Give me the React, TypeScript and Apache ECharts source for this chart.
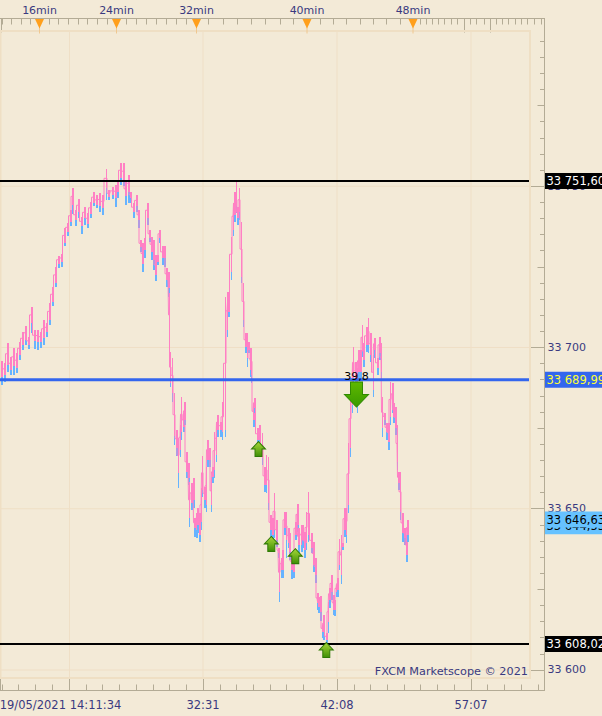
import React, { useEffect, useRef } from "react";
import * as echarts from "echarts";

const barTime = [1,4,7,10,13,16,19,22,25,28,31,34,37,40,43,46,49,52,55,58,61,64,67,70,72,75,78,81,84,87,90,93,96,99,102,106,108,112,115,117,120,123,125,128,130,133,136,138,140,142,144,147,149,151,153,155,157,159,162,164,166,168,169,170,172,174,176,178,180,181,183,184,186,188,189,191,193,194,196,197,199,201,202,204,206,207,209,211,212,214,216,217,220,222,225,227,228,231,233,234,236,237,239,241,243,245,247,248,250,251,253,254,257,259,262,264,266,268,270,272,274,276,278,279,281,282,284,286,288,289,291,293,295,297,298,301,302,304,306,308,311,313,315,317,318,320,322,323,326,328,329,331,333,334,336,337,339,341,342,344,346,348,350,352,353,355,357,358,360,362,363,366,368,370,373,374,377,379,381,382,384,386,388,390,392,393,395,397,398,400,402,404,406,407];
const askHigh = [33695.9,33695.2,33701.5,33697.1,33699.9,33698.4,33701.8,33704.9,33706.7,33703.3,33712.6,33705.5,33705.5,33704.9,33708.6,33707.6,33713.8,33718.8,33725,33728.4,33729,33737.1,33738.6,33742.7,33749.5,33742.7,33746.1,33740.5,33743.6,33741.8,33745.2,33748.3,33747.3,33748,33747.3,33755.4,33748.9,33749.8,33750.4,33751.4,33757.3,33757.3,33751.4,33753.5,33748.3,33744.9,33747.3,33742.7,33733.4,33732.4,33734,33744.9,33736.5,33734.3,33733.4,33728.7,33728.7,33736.5,33731.5,33731.5,33724.7,33723.5,33716.9,33698.7,33696.8,33685.9,33674.5,33672,33676,33684.7,33679.7,33683.1,33667.6,33664.2,33658.3,33658,33659.6,33647.2,33648.7,33650.3,33648.7,33656.5,33666.4,33656.8,33663,33671.4,33668.9,33659.9,33663,33673.9,33677,33679.1,33677,33683.1,33715.7,33717.2,33717.2,33734.3,33744.9,33748.3,33751.4,33743.6,33749.5,33739,33720,33704.6,33704.6,33701.8,33699.9,33699.9,33682.8,33684.4,33675.1,33676,33673.5,33663,33666.7,33666.1,33648.1,33647.2,33654.9,33646.6,33637.9,33636.4,33634.8,33637.3,33649,33649,33644.1,33642.5,33636.4,33634.2,33646,33651.5,33644.1,33645,33645,33642.8,33649,33655.2,33642.5,33639.7,33634.8,33623.9,33622.7,33623,33614,33617.1,33611.5,33621.2,33625.5,33629.5,33623.3,33621.8,33626.4,33628.6,33640.7,33641.9,33639.4,33650.3,33650.3,33670.4,33686.9,33695.2,33700.2,33695.5,33693.7,33699.3,33699.3,33707,33701.5,33706.4,33709.2,33704.6,33697.7,33703,33696.8,33703.3,33701.5,33684.7,33679.7,33676.6,33676.6,33689.3,33689,33682.8,33681.6,33676,33661.5,33661.5,33648.7,33644.1,33641.9,33646.6];
const askLow = [33690.9,33691.5,33694.6,33693.1,33694.3,33693.7,33697.7,33700.8,33702.4,33700.8,33707.6,33702.1,33701.8,33701.8,33703,33704.9,33708.6,33714.2,33720,33726,33726.5,33732.4,33735.9,33739,33744.2,33739.6,33742.1,33737.7,33740.2,33738.3,33741.4,33744.9,33744.2,33743.9,33743.3,33749.5,33746.7,33747.3,33746.4,33748.3,33752.6,33752,33747,33748.3,33746.4,33742.1,33743.9,33739.6,33731.2,33725.9,33730.3,33740.2,33734,33729.7,33727.2,33722.5,33726.5,33734,33727.8,33727.8,33721,33718.5,33703.3,33689.1,33685.9,33672.4,33668.9,33661.1,33668.3,33673.9,33675.4,33677.6,33661.5,33659.6,33647.2,33651.8,33652.8,33644.1,33643.5,33645,33641.9,33645.9,33655.9,33652.8,33651.2,33665.2,33665.2,33651.2,33659.9,33662.1,33666.7,33674.5,33674.5,33673.9,33674.5,33705.5,33711,33723.5,33736.5,33741.1,33743.9,33740.2,33742.1,33722,33708.6,33700.2,33696.8,33699.3,33693.1,33691.5,33677.6,33681.3,33671.4,33671.4,33665.8,33657.4,33657.4,33651.8,33643.5,33641.9,33643.5,33640.4,33636.4,33624.2,33631.1,33631.1,33644.1,33640.4,33639.4,33636.7,33631.1,33630.5,33641.9,33645,33638.8,33638.8,33640.4,33637.3,33639.4,33641.9,33637.9,33632.6,33629.5,33620.8,33619.6,33618,33611.8,33611.8,33609.4,33614.9,33621.8,33624.2,33618.7,33618.7,33624.2,33624.9,33632.6,33629.5,33638.2,33643.5,33641.9,33651.2,33668.9,33682.2,33690.6,33690,33682.2,33692.5,33692.5,33699.3,33696.2,33700.8,33700.8,33697.7,33686.9,33699.3,33693.7,33698.3,33692.5,33675.1,33677.6,33673.9,33670.7,33678.5,33682.2,33678.5,33675.1,33664.5,33658,33649,33642.5,33640.9,33635.7,33641.9];
const bidLow = [33688.4,33689.4,33692.5,33691.6,33691.6,33692.2,33696.2,33699.3,33700.8,33699.6,33704.6,33699.6,33699.3,33699.9,33700.8,33703.3,33707,33712.9,33718.8,33724.7,33725,33731.5,33734.6,33737.7,33741.4,33737.7,33740.2,33735.2,33738,33737.1,33740.2,33743.9,33743.3,33742.1,33741.1,33745.8,33745.8,33746.1,33743.6,33746.4,33750.4,33750.1,33744.2,33744.9,33744.9,33740.2,33742.1,33737.1,33729.7,33723.5,33727.8,33738,33732.8,33727.2,33724.1,33720.7,33725.6,33732.4,33725.6,33725,33718.8,33715.7,33701.1,33687.8,33683.1,33669.8,33666.4,33656.5,33666.1,33671.4,33673.9,33676,33659.6,33657.4,33644.4,33649.7,33650.3,33641.3,33641,33642.5,33639.7,33643.5,33653.7,33650.3,33649,33663,33663,33649,33658,33659.6,33664.5,33672.3,33672.3,33671.4,33672.3,33703.3,33709.5,33721,33734.6,33739,33741.8,33738,33739.6,33720,33706.4,33698.3,33694,33698.3,33690.9,33689,33675.4,33679.7,33669.8,33668.3,33663.6,33655.2,33654.9,33649.7,33641.3,33639.7,33641,33638.2,33634.8,33621.2,33628.6,33628.6,33641.9,33634.8,33637.9,33634.2,33628.2,33628.6,33640.4,33642.8,33636.4,33636.7,33637.9,33634.8,33637.3,33639.7,33636.4,33630.4,33627,33618.7,33617.7,33615.3,33610,33609.4,33608.4,33611.5,33619.3,33621.8,33617.1,33616.8,33622.7,33622.7,33631.1,33626.7,33637.3,33641.3,33639.4,33648.7,33666.1,33679.7,33689.1,33688.4,33679.7,33690,33690,33697.1,33694,33698.6,33698.3,33695.5,33684.7,33696.8,33691.5,33696.2,33690,33672.3,33676,33671.4,33668.3,33676,33679.7,33676.6,33672.9,33662.1,33655.9,33646.6,33639.7,33638.8,33633.5,33639.7];

const levelValues = [33751.6, 33689.99, 33608.02];
const levelColors = ["#000000", "#3366ee", "#000000"];
const levelWidths = [2, 3, 2];
const tagValues = [33644.53, 33646.63, 33751.6, 33689.99, 33608.02];
const tagFills = ["#66c2ff", "#66c2ff", "#000000", "#3366ee", "#000000"];
const tagInks = ["#000000", "#000000", "#ffffff", "#ffff33", "#ffffff"];

const buyTimes = [258.5, 271.3, 295.3, 326.3];
const buyPrices = [33668.5, 33639.1, 33635.3, 33606.2];
const sellTimes = [356.5];
const sellPrices = [33685.4];
const sellLabels = ["39,8"];

const yLabelTicks = [33600, 33650, 33700, 33750];
const yMediumTicks = [33625, 33675, 33725, 33775];
const yMinorTicks = [33605,33610,33615,33620,33630,33635,33640,33645,33655,33660,33665,33670,33680,33685,33690,33695,33705,33710,33715,33720,33730,33735,33740,33745,33755,33760,33765,33770,33780,33785,33790,33795];

const bottomMajorTicks = [0.5, 69.5, 203, 337, 471];
const bottomLabelTicks = [69.5, 203, 337, 471];
const bottomLabels = ["19/05/2021 14:11:34", "32:31", "42:08", "57:07"];
const bottomMinorTicks = [2.3,18.5,35.5,52,86,102.7,119.5,136,153,169.5,186,220,236.5,253,270,286.5,303.5,320,354,370.5,387,404,420.5,437.5,454,487,504,521,538];

const rulerMarks = [39.5, 116.5, 196.5, 307, 413];
const rulerLabels = ["16min", "24min", "32min", "40min", "48min"];
const rulerMajorTicks = [1, 464, 490.3];
const rulerMinorTicks = [2.5,11.7,21,30.3,49,58.7,68.3,78,87.6,97,106.8,126.5,136.5,146.5,156.5,166.5,176.5,186.5,208.3,223.3,237.3,251.7,265.7,280,293.5,320,333,346,360,373,386,400,420,426,432.3,438.3,444.3,451,457.3,470,476.7,484,496.7,502.7,508.7,515.3,521.7,527.7,534.3,541];

const gridTimes = [69.5, 203, 337, 471];
const gridPrices = [33600, 33650, 33700, 33750];

const TIME_MIN = 0;
const TIME_MAX = 544.5;
const PRICE_MIN = 33593.64;
const PRICE_MAX = 33802;
const FRAME_LEFT = 0.5;
const FRAME_RIGHT = 530;
const LEVEL_RIGHT = 529;
const FRAME_TOP = 33798.1;
const FRAME_BOTTOM = 33597.5;

const INK = "#3a3a80";
const PAPER = "#f3ead7";
const RULE = "#b3ab95";
const FAINT = "#efdfc6";
const FONT = "DejaVu Sans";
const PINK = "#ff80c4";
const SKY = "#66b3ff";

const fmtTick = (v: number) => {
  const s = String(Math.round(v));
  return s.slice(0, 2) + " " + s.slice(2);
};
const fmtTag = (v: number) => {
  const s = v.toFixed(2).replace(".", ",");
  return s.slice(0, 2) + " " + s.slice(2);
};

const xBase = {
  type: "value" as const,
  min: TIME_MIN,
  max: TIME_MAX,
  splitLine: { show: false },
  axisLabel: { show: false },
};
const yBase = {
  type: "value" as const,
  min: PRICE_MIN,
  max: PRICE_MAX,
  position: "right" as const,
  splitLine: { show: false },
  axisLabel: { show: false },
  scale: true,
};
const tickStyle = { color: RULE, width: 1 };
const ruleLine = { show: true, onZero: false, lineStyle: { color: RULE, width: 1 } };
const noLine = { show: false, onZero: false };

const UP_ARROW = "path://M7 0 L14 7 H10.5 V14 H3.5 V7 H0 Z";
const DOWN_ARROW = "path://M6 0 H18 V12 H24 L12 24 L0 12 H6 Z";

function buildOption() {
  return {
    animation: false,
    backgroundColor: PAPER,
    grid: { left: 0, right: 57.5, top: 18.5, bottom: 25.5, containLabel: false, outerBoundsMode: "none" },
    xAxis: [
      {
        ...xBase,
        position: "bottom",
        axisLine: ruleLine,
        axisTick: { show: true, inside: true, length: 12, lineStyle: tickStyle, customValues: bottomMajorTicks },
        axisLabel: {
          show: true,
          customValues: bottomLabelTicks,
          margin: 8,
          color: INK,
          fontFamily: FONT,
          fontSize: 11.5,
          showMinLabel: true,
          showMaxLabel: true,
          hideOverlap: false,
          formatter: (v: number) => {
            const i = bottomLabelTicks.indexOf(v);
            return i === 0 ? `{first|${bottomLabels[i]}}` : bottomLabels[i] ?? "";
          },
          rich: { first: { padding: [0, 18, 0, 0], color: INK, fontFamily: FONT, fontSize: 11.5 } },
        },
      },
      {
        ...xBase,
        position: "bottom",
        axisLine: noLine,
        axisTick: { show: true, inside: true, length: 6, lineStyle: tickStyle, customValues: bottomMinorTicks },
      },
      {
        ...xBase,
        position: "top",
        axisLine: ruleLine,
        axisTick: { show: true, inside: true, length: 14, lineStyle: tickStyle, customValues: rulerMajorTicks },
        axisLabel: {
          show: true,
          customValues: rulerMarks,
          margin: 3,
          color: INK,
          fontFamily: FONT,
          fontSize: 11,
          hideOverlap: false,
          formatter: (v: number) => rulerLabels[rulerMarks.indexOf(v)] ?? "",
        },
      },
      {
        ...xBase,
        position: "top",
        axisLine: noLine,
        axisTick: { show: true, inside: true, length: 6, lineStyle: tickStyle, customValues: rulerMinorTicks },
      },
    ],
    yAxis: [
      {
        ...yBase,
        axisLine: ruleLine,
        axisTick: { show: true, inside: true, length: 14, lineStyle: tickStyle, customValues: yLabelTicks },
        axisLabel: {
          show: true,
          customValues: yLabelTicks,
          margin: 3,
          color: INK,
          fontFamily: FONT,
          fontSize: 11,
          hideOverlap: false,
          formatter: (v: number) => fmtTick(v),
        },
      },
      {
        ...yBase,
        axisLine: noLine,
        axisTick: { show: true, inside: true, length: 7, lineStyle: tickStyle, customValues: yMediumTicks },
      },
      {
        ...yBase,
        axisLine: noLine,
        axisTick: { show: true, inside: true, length: 4.5, lineStyle: tickStyle, customValues: yMinorTicks },
      },
    ],
    graphic: [
      {
        type: "text",
        z: 20,
        x: 528,
        y: 671,
        style: {
          text: "FXCM Marketscope © 2021",
          fill: INK,
          font: `11.25px "${FONT}"`,
          align: "right",
          verticalAlign: "middle",
        },
      },
    ],
    series: [
      {
        type: "custom",
        name: "frame",
        z: 1,
        silent: true,
        data: [[FRAME_LEFT, FRAME_TOP, FRAME_RIGHT, FRAME_BOTTOM]],
        renderItem: (_p: any, api: any) => {
          const a = api.coord([api.value(0), api.value(1)]);
          const b = api.coord([api.value(2), api.value(3)]);
          return {
            type: "rect",
            shape: { x: a[0], y: a[1], width: b[0] - a[0], height: b[1] - a[1] },
            style: { fill: "none", stroke: "#efdfc4", lineWidth: 2 },
          };
        },
      },
      {
        type: "custom",
        name: "gridTime",
        z: 1,
        silent: true,
        data: gridTimes.map((t) => [t]),
        renderItem: (_p: any, api: any) => {
          const a = api.coord([api.value(0), FRAME_TOP]);
          const b = api.coord([api.value(0), FRAME_BOTTOM]);
          return {
            type: "line",
            shape: { x1: a[0], y1: a[1], x2: b[0], y2: b[1] },
            style: { stroke: FAINT, lineWidth: 1 },
          };
        },
      },
      {
        type: "custom",
        name: "gridPrice",
        z: 1,
        silent: true,
        data: gridPrices.map((p) => [p]),
        renderItem: (_p: any, api: any) => {
          const a = api.coord([FRAME_LEFT, api.value(0)]);
          const b = api.coord([FRAME_RIGHT, api.value(0)]);
          return {
            type: "line",
            shape: { x1: a[0], y1: a[1], x2: b[0], y2: b[1] },
            style: { stroke: FAINT, lineWidth: 1 },
          };
        },
      },
      {
        type: "line",
        name: "priceJoin",
        z: 2,
        silent: true,
        showSymbol: false,
        symbol: "none",
        step: "middle",
        data: barTime.map((t, i) => [t, (askHigh[i] + askLow[i]) / 2]),
        lineStyle: { color: PINK, width: 1 },
      },
      {
        type: "custom",
        name: "price",
        z: 2,
        silent: true,
        data: barTime.map((t, i) => [t, askHigh[i], askLow[i], bidLow[i]]),
        encode: { x: 0, y: [1, 2, 3] },
        renderItem: (_p: any, api: any) => {
          const t = api.value(0);
          const hi = api.coord([t, api.value(1)]);
          const mid = api.coord([t, api.value(2)]);
          const lo = api.coord([t, api.value(3)]);
          const x = Math.round(hi[0]);
          const tall = lo[1] - hi[1] > 30;
          const w = tall ? 1 : 2;
          return {
            type: "group",
            children: [
              { type: "rect", shape: { x, y: Math.round(mid[1]) - 2, width: w, height: Math.round(lo[1]) - Math.round(mid[1]) + 2 }, style: { fill: SKY, stroke: "none" } },
              { type: "rect", shape: { x, y: Math.round(hi[1]), width: w, height: Math.round(mid[1]) - Math.round(hi[1]) }, style: { fill: PINK, stroke: "none" } },
            ],
          };
        },
      },
      ...levelValues.map((v, i) => ({
        type: "line",
        name: `level${i}`,
        z: 3,
        silent: true,
        showSymbol: false,
        symbol: "none",
        data: [
          [TIME_MIN, v],
          [LEVEL_RIGHT, v],
        ],
        lineStyle: { color: levelColors[i], width: levelWidths[i] },
      })),
      {
        type: "custom",
        name: "rulerMarks",
        z: 4,
        silent: true,
        data: rulerMarks.map((t) => [t]),
        renderItem: (_p: any, api: any) => {
          const top = api.coord([api.value(0), PRICE_MAX]);
          const x = top[0];
          const y = top[1];
          return {
            type: "group",
            children: [
              { type: "line", shape: { x1: x, y1: y + 8, x2: x, y2: y + 15 }, style: { stroke: "#f0c890", lineWidth: 1 } },
              {
                type: "polygon",
                shape: { points: [[x - 4.5, y + 0.5], [x + 4.5, y + 0.5], [x, y + 10]] },
                style: { fill: "#ff9f1c" },
              },
            ],
          };
        },
      },
      {
        type: "scatter",
        name: "buy",
        z: 5,
        silent: true,
        symbol: UP_ARROW,
        symbolSize: [14, 15],
        data: buyTimes.map((t, i) => [t, buyPrices[i]]),
        itemStyle: {
          color: new echarts.graphic.LinearGradient(0, 0, 0, 1, [
            { offset: 0, color: "#a8d838" },
            { offset: 1, color: "#3f8f06" },
          ]),
          borderColor: "#2f7a05",
          borderWidth: 1,
          opacity: 1,
        },
      },
      {
        type: "scatter",
        name: "sell",
        z: 5,
        silent: true,
        symbol: DOWN_ARROW,
        symbolSize: [24, 25],
        data: sellTimes.map((t, i) => ({ value: [t, sellPrices[i]], label: { formatter: sellLabels[i] } })),
        label: { show: true, position: "top", distance: 0, color: "#000000", fontFamily: FONT, fontSize: 11 },
        itemStyle: {
          color: new echarts.graphic.LinearGradient(0, 0, 0, 1, [
            { offset: 0, color: "#5fb800" },
            { offset: 1, color: "#3a9a00" },
          ]),
          borderColor: "#2f8a00",
          borderWidth: 1,
          opacity: 1,
        },
      },
      {
        type: "custom",
        name: "tags",
        z: 6,
        silent: true,
        data: tagValues.map((v, i) => [v, i]),
        encode: { y: 0 },
        renderItem: (_p: any, api: any) => {
          const v = api.value(0);
          const i = api.value(1);
          const c = api.coord([TIME_MAX, v]);
          return {
            type: "group",
            children: [
              { type: "rect", shape: { x: c[0] + 0.5, y: c[1] - 8, width: 60, height: 16 }, style: { fill: tagFills[i] } },
              {
                type: "text",
                style: {
                  x: c[0] + 2,
                  y: c[1],
                  text: fmtTag(v),
                  fill: tagInks[i],
                  font: `11.5px "${FONT}"`,
                  align: "left",
                  verticalAlign: "middle",
                },
              },
            ],
          };
        },
      },
    ],
  };
}

export default function App() {
  const ref = useRef<HTMLDivElement>(null);
  useEffect(() => {
    document.body.style.margin = "0";
    document.body.style.overflow = "hidden";
    const chart = echarts.init(ref.current!, undefined, { renderer: "svg" });
    chart.setOption(buildOption() as any);
    return () => chart.dispose();
  }, []);
  return <div ref={ref} style={{ width: 602, height: 716, position: "absolute", left: 0, top: 0 }} />;
}
